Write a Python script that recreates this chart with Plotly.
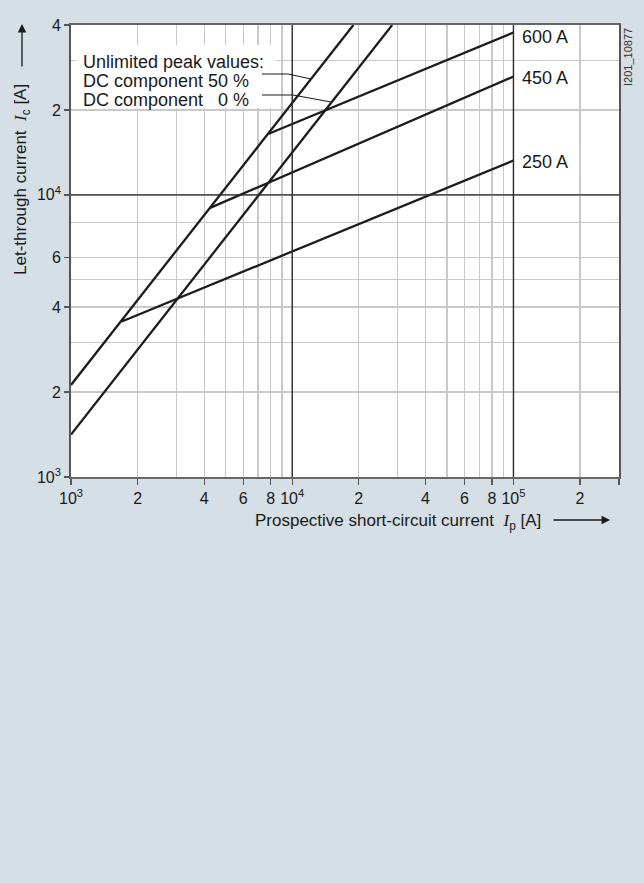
import math
import plotly.graph_objects as go

# ---------------- data ----------------
# prospective short-circuit current Ip [A] (x) vs let-through current Ic [A] (y)
dc50_x = [1000, 18900]          # unlimited peak, DC component 50 %
dc50_y = [2120, 40000]
dc0_x = [1000, 28300]           # unlimited peak, DC component 0 %
dc0_y = [1414, 40000]

a250_x = [1697, 100000]
a250_y = [3556, 13240]
a450_x = [4230, 100000]
a450_y = [8970, 26270]
a600_x = [7827, 100000]
a600_y = [16460, 37630]

x_tickvals = [1e3, 2e3, 4e3, 6e3, 8e3, 1e4, 2e4, 4e4, 6e4, 8e4, 1e5, 2e5, 3e5]
x_ticktext = ["10<sup>3</sup>", "2", "4", "6", "8", "10<sup>4</sup>", "2", "4", "6", "8",
              "10<sup>5</sup>", "2", ""]
x_minor = [3e3, 5e3, 7e3, 9e3, 3e4, 5e4, 7e4, 9e4]

y_tickvals = [1e3, 2e3, 4e3, 6e3, 1e4, 2e4, 4e4]
y_ticktext = ["10<sup>3</sup>", "2", "4", "6", "10<sup>4</sup>", "2", "4"]
y_minor = [3e3, 5e3, 8e3, 3e4]

x_range = [1e3, 3e5]
y_range = [1e3, 4e4]

# ---------------- layout helpers ----------------
L, T, W, H = 71, 25, 548, 452          # plot area in pixels
FIG_W, FIG_H = 644, 883
FONT = "Liberation Sans, Arial, Helvetica, sans-serif"
BG = "#d5dfe5"
LINE = "#1c1c1c"


def px(x):
    return (x - L) / W


def py(y):
    return (T + H - y) / H


def xfrac(v):
    lo, hi = math.log10(x_range[0]), math.log10(x_range[1])
    return (math.log10(v) - lo) / (hi - lo)


def yfrac(v):
    lo, hi = math.log10(y_range[0]), math.log10(y_range[1])
    return (math.log10(v) - lo) / (hi - lo)


fig = go.Figure()
for xs, ys in [(dc50_x, dc50_y), (dc0_x, dc0_y), (a250_x, a250_y), (a450_x, a450_y), (a600_x, a600_y)]:
    fig.add_trace(go.Scatter(x=xs, y=ys, mode="lines", line=dict(color=LINE, width=2.3),
                             showlegend=False, hoverinfo="skip", cliponaxis=True))

shapes = []
# white box behind the explanatory text (covers grid only, no data there)
shapes.append(dict(type="rect", xref="paper", yref="paper", layer="above",
                   x0=px(76), x1=px(276), y0=py(108), y1=py(45),
                   fillcolor="white", line=dict(width=0)))
# dark decade grid lines
for v in [1e4, 1e5]:
    shapes.append(dict(type="line", xref="paper", yref="paper", layer="above",
                       x0=xfrac(v), x1=xfrac(v), y0=0, y1=1,
                       line=dict(color="#2a2a2a", width=1.4)))
shapes.append(dict(type="line", xref="paper", yref="paper", layer="above",
                   x0=0, x1=1, y0=yfrac(1e4), y1=yfrac(1e4),
                   line=dict(color="#2a2a2a", width=1.4)))
# leader lines
shapes.append(dict(type="path", xref="paper", yref="paper", layer="above",
                   path=f"M {px(262)} {py(74)} L {px(288)} {py(74)} L {px(311)} {py(79)}",
                   line=dict(color=LINE, width=1.1)))
shapes.append(dict(type="path", xref="paper", yref="paper", layer="above",
                   path=f"M {px(262)} {py(95)} L {px(293)} {py(95)} L {px(331)} {py(102)}",
                   line=dict(color=LINE, width=1.1)))

ann = []
txt_font = dict(family=FONT, size=18, color="#1a1a1a")
for text, yy in [("Unlimited peak values:", 62),
                 ("DC component 50 %", 81),
                 ("DC component\u00a0\u00a0\u00a00 %", 100)]:
    ann.append(dict(text=text, xref="paper", yref="paper", x=px(81), y=py(yy),
                    xanchor="left", yanchor="middle", showarrow=False, font=txt_font))
for text, yy in [("600 A", 37), ("450 A", 78), ("250 A", 162)]:
    ann.append(dict(text=text, xref="paper", yref="paper", x=px(520), y=py(yy),
                    xanchor="left", yanchor="middle", showarrow=False, font=txt_font))

# drawing id
ann.append(dict(text="I201_10877", xref="paper", yref="paper", x=px(628), y=py(57),
                xanchor="center", yanchor="middle", textangle=-90, showarrow=False,
                font=dict(family=FONT, size=11, color="#333333")))

ital = "<i><span style='font-family:Liberation Serif, Times New Roman, serif'>I</span></i>"
title_font = dict(family=FONT, size=17, color="#1a1a1a")
# x axis title + arrow
ann.append(dict(text="Prospective short-circuit current\u00a0\u00a0" + ital + "<sub>p</sub> [A]",
                xref="paper", yref="paper", x=px(253), y=py(522), xanchor="left", yanchor="middle",
                showarrow=False, font=title_font))
ann.append(dict(text="", xref="paper", yref="paper", x=px(610), y=py(520), ax=-58, ay=0,
                showarrow=True, arrowhead=2, arrowsize=1.3, arrowwidth=1.3, arrowcolor="#1a1a1a"))
# y axis title + arrow
ann.append(dict(text="Let-through current\u00a0\u00a0" + ital + "<sub>c</sub> [A]",
                xref="paper", yref="paper", x=px(22), y=py(180), xanchor="center", yanchor="middle",
                textangle=-90, showarrow=False, font=title_font))
ann.append(dict(text="", xref="paper", yref="paper", x=px(22), y=py(24), ax=0, ay=44,
                showarrow=True, arrowhead=2, arrowsize=1.3, arrowwidth=1.3, arrowcolor="#1a1a1a"))

tick_font = dict(family=FONT, size=16, color="#1a1a1a")
fig.update_layout(
    width=FIG_W, height=FIG_H,
    margin=dict(l=L, r=FIG_W - L - W, t=T, b=FIG_H - T - H),
    paper_bgcolor=BG, plot_bgcolor="white",
    shapes=shapes, annotations=ann, showlegend=False,
    xaxis=dict(type="log", range=[math.log10(x_range[0]), math.log10(x_range[1])],
               tickmode="array", tickvals=x_tickvals, ticktext=x_ticktext,
               ticks="outside", ticklen=6, tickcolor="#555555", tickwidth=1.3,
               showgrid=True, gridcolor="#c9c9c9", gridwidth=1.3,
               minor=dict(tickvals=x_minor, showgrid=True, gridcolor="#c9c9c9", gridwidth=1.3, ticks=""),
               showline=True, linecolor="#666666", linewidth=1.8, mirror=True,
               tickfont=tick_font, zeroline=False, fixedrange=True),
    yaxis=dict(type="log", range=[math.log10(y_range[0]), math.log10(y_range[1])],
               tickmode="array", tickvals=y_tickvals, ticktext=y_ticktext,
               ticks="outside", ticklen=5, tickcolor="#555555", tickwidth=1.3,
               showgrid=True, gridcolor="#c9c9c9", gridwidth=1.3,
               minor=dict(tickvals=y_minor, showgrid=True, gridcolor="#c9c9c9", gridwidth=1.3, ticks=""),
               showline=True, linecolor="#555555", linewidth=1.8, mirror=True,
               tickfont=tick_font, zeroline=False, fixedrange=True),
)

fig.write_html("out.html", config={"displayModeBar": False, "staticPlot": True},
               post_script="document.body.style.margin='0';document.body.style.overflow='hidden';")
